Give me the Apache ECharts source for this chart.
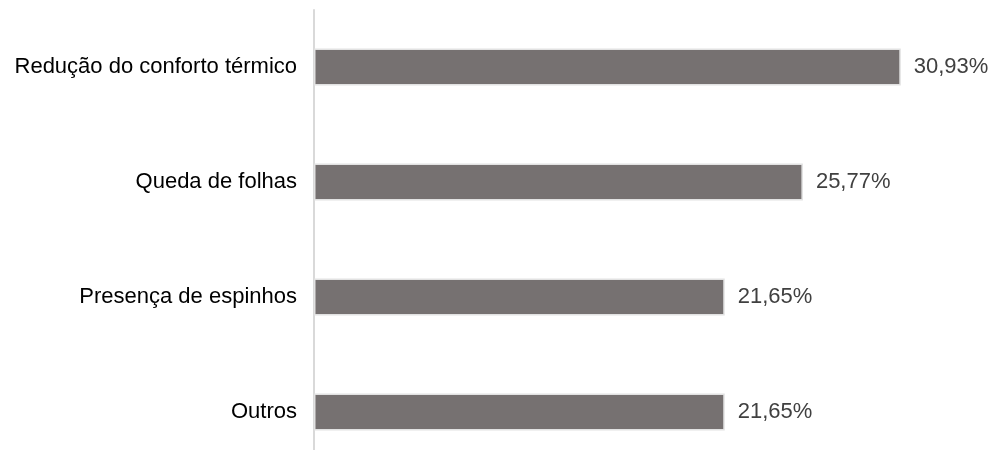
<!DOCTYPE html>
<html><head><meta charset="utf-8">
<script src="https://cdn.jsdelivr.net/npm/echarts@6/dist/echarts.min.js"></script>
<style>html,body{margin:0;padding:0;background:#fff}#c{width:993px;height:450px}</style>
</head><body><div id="c"></div>
<script>
const categories = ["Redução do conforto térmico", "Queda de folhas", "Presença de espinhos", "Outros"];
const values = [30.93, 25.77, 21.65, 21.65];
const chart = echarts.init(document.getElementById('c'), null, {renderer: 'canvas'});
chart.setOption({
  animation: false,
  grid: [
    {left: 314, top: 67, height: 345, width: 664},
    {left: 314, top: 10, bottom: 0, width: 664}
  ],
  xAxis: [
    {type: 'value', min: 0, max: 35, show: false, gridIndex: 0},
    {type: 'value', min: 0, max: 35, show: false, gridIndex: 1}
  ],
  yAxis: [{
    type: 'category', data: categories, inverse: true, boundaryGap: false, gridIndex: 0,
    axisLine: {show: false},
    axisTick: {show: false},
    axisLabel: {color: '#000', fontFamily: 'Liberation Sans, Arial', fontSize: 22, margin: 17}
  }, {
    type: 'value', gridIndex: 1, min: 0, max: 1,
    axisLine: {show: true, lineStyle: {color: '#d9d9d9', width: 2}},
    axisTick: {show: false}, axisLabel: {show: false}, splitLine: {show: false}
  }],
  series: [{
    type: 'bar', data: values, barWidth: 37, xAxisIndex: 0, yAxisIndex: 0,
    itemStyle: {color: '#767171', borderColor: '#e2e2e2', borderWidth: 1.5},
    label: {show: true, position: 'right', distance: 13, color: '#404040',
      fontFamily: 'Liberation Sans, Arial', fontSize: 22,
      formatter: p => p.value.toFixed(2).replace('.', ',') + '%'}
  }]
});
</script></body></html>
